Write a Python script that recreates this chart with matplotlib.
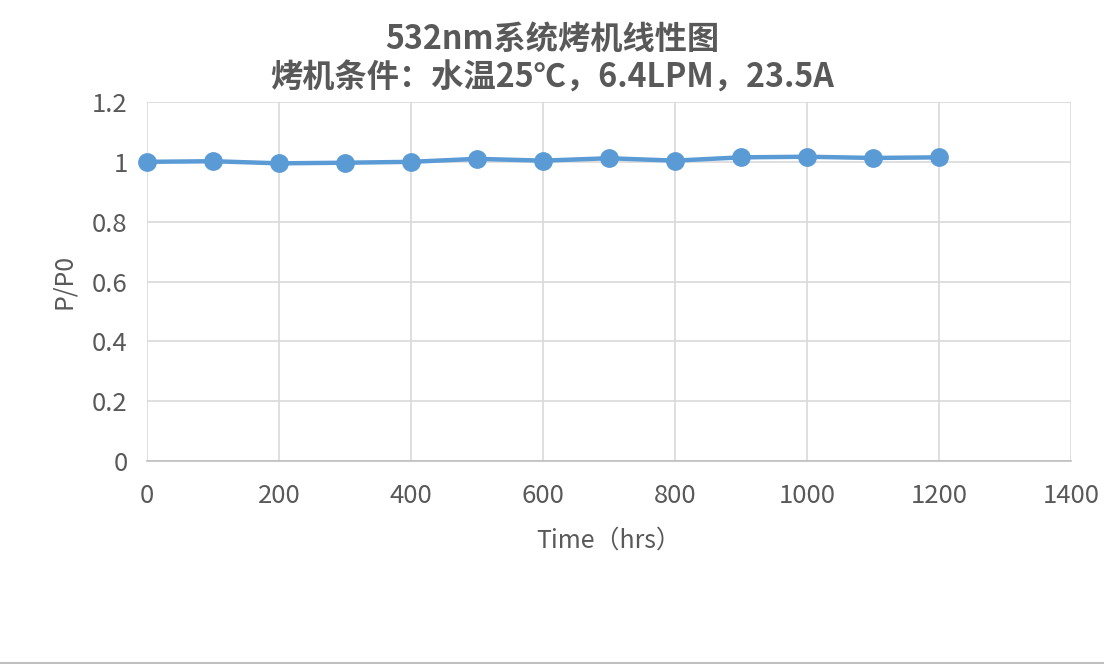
import matplotlib
matplotlib.use("Agg")
import matplotlib.pyplot as plt
from matplotlib.lines import Line2D

plt.rcParams['font.family'] = ['Noto Sans CJK SC', 'DejaVu Sans']

hours = [0, 100, 200, 300, 400, 500, 600, 700, 800, 900, 1000, 1100, 1200]
ratio = [1.000, 1.002, 0.995, 0.997, 1.000, 1.010, 1.004, 1.012, 1.004, 1.015, 1.017, 1.013, 1.015]
xticks = [0, 200, 400, 600, 800, 1000, 1200, 1400]
yticks = [0, 0.2, 0.4, 0.6, 0.8, 1.0, 1.2]
ytick_labels = ['0', '0.2', '0.4', '0.6', '0.8', '1', '1.2']
title = "532nm系统烤机线性图\n烤机条件：水温25℃，6.4LPM，23.5A"

W, H = 1104, 664
fig = plt.figure(figsize=(W/100, H/100), dpi=100)
ax = fig.add_axes([147/W, 1 - 461/H, (1071-147)/W, (461-102)/H])

txt = '#595959'
grid = '#d9d9d9'
color = '#5b9bd5'

ax.plot(hours, ratio, color=color, lw=3.2, marker='o', markersize=12.5,
        markerfacecolor=color, markeredgecolor=color, zorder=3, clip_on=False)

ax.set_xlim(0, 1400)
ax.set_ylim(0, 1.2)
ax.set_xticks(xticks)
ax.set_yticks(yticks)
ax.set_yticklabels(ytick_labels)
ax.grid(True, color=grid, lw=1.2)
ax.set_axisbelow(True)
for s in ['top', 'right', 'left']:
    ax.spines[s].set_visible(False)
ax.spines['bottom'].set_color('#bfbfbf')
ax.spines['bottom'].set_linewidth(1.2)
ax.tick_params(axis='both', length=0, labelsize=18.5, colors=txt)
ax.tick_params(axis='x', pad=15.5)
ax.tick_params(axis='y', pad=14)

ax.set_xlabel('Time（hrs）', fontsize=18, color=txt, labelpad=14)
ax.set_ylabel('P/P0', fontsize=18, color=txt, labelpad=11)

fig.text(0.5, 1 - 59/H, title, ha='center', va='center', fontsize=23.2,
         fontweight='bold', color=txt, linespacing=1.22)

fig.add_artist(Line2D([0, 1], [1 - 663/H, 1 - 663/H], transform=fig.transFigure,
                      color='#bfbfbf', lw=1.5))

fig.savefig('out.png', dpi=100, facecolor='white')
